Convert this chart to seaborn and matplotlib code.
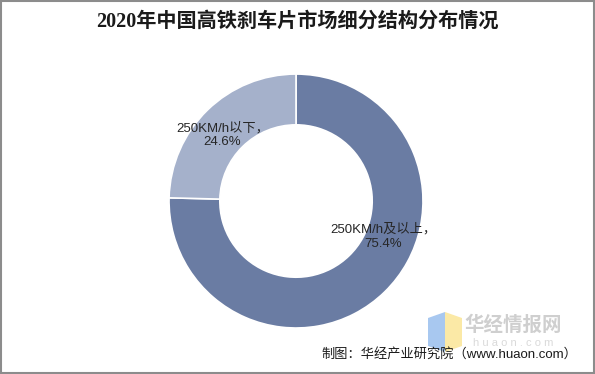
import matplotlib
matplotlib.use('Agg')
from matplotlib import pyplot as plt
from matplotlib.patches import Rectangle, Polygon
import seaborn as sns

# data
segments = ['250KM/h及以上', '250KM/h以下']
shares = [75.4, 24.6]
colors = ['#6a7ca3', '#a5b1cb']

sns.set_theme(style='white')
plt.rcParams['font.family'] = ['Liberation Sans', 'Noto Sans CJK SC', 'DejaVu Sans']

fig = plt.figure(figsize=(5.95, 3.74), dpi=100)
ax = fig.add_axes([0.284, 0.123, 0.427, 0.679])

wedges, _ = ax.pie(shares, colors=colors, startangle=90, counterclock=False,
                   radius=1.0, wedgeprops=dict(width=0.4, edgecolor='white', linewidth=1.2))
ax.set_xlim(-1.0, 1.0)
ax.set_ylim(-1.0, 1.0)
ax.set_aspect('equal')
ax.axis('off')

# labels placed like the original
label_pos = [(0.69, -0.28), (-0.58, 0.52)]
for name, val, (lx, ly) in zip(segments, shares, label_pos):
    ax.text(lx, ly, f'{name}，\n{val}%', ha='center', va='center',
            fontsize=9.5, color='#262626', linespacing=1.25)

fig.text(0.5, 0.941, '2020年中国高铁刹车片市场细分结构分布情况', ha='center', va='center',
         fontsize=14.5, fontweight='bold', color='#1a1a1a',
         family=['Liberation Serif', 'Noto Sans CJK SC'])

# watermark
fig.patches.append(Polygon([[428/595, 1-318/374], [445/595, 1-312/374], [445/595, 1-352/374], [428/595, 1-346/374]],
                           closed=True, transform=fig.transFigure, facecolor='#a8c8f0', edgecolor='none'))
fig.patches.append(Polygon([[445/595, 1-312/374], [462/595, 1-318/374], [462/595, 1-346/374], [445/595, 1-352/374]],
                           closed=True, transform=fig.transFigure, facecolor='#fbe9a6', edgecolor='none'))
fig.text(513/595, 1-325/374, '华经情报网', ha='center', va='center', fontsize=14,
         fontweight='bold', color='#cfcfcf')
fig.text(513/595, 1-343/374, 'h u a o n . c o m', ha='center', va='center', fontsize=8,
         color='#dadada')

fig.text(0.971, 0.053, '制图：华经产业研究院（www.huaon.com）', ha='right', va='center',
         fontsize=9.5, color='#1a1a1a')

fig.patches.append(Rectangle((0.002, 0.003), 0.996, 0.994, transform=fig.transFigure,
                             fill=False, edgecolor='#8c8c8c', linewidth=1.5))

plt.savefig('out.png', dpi=100)
